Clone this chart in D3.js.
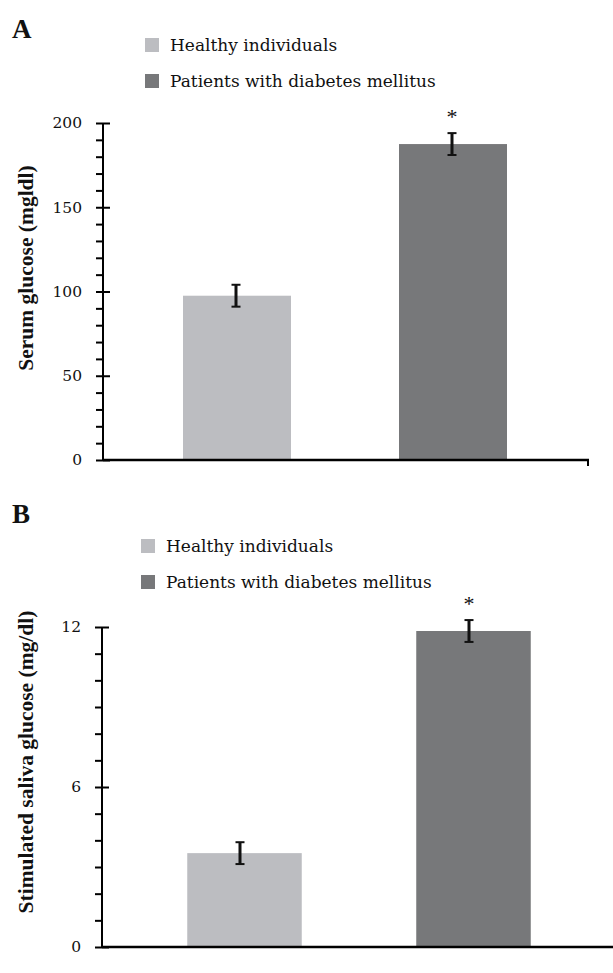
<!DOCTYPE html>
<html>
<head>
<meta charset="utf-8">
<script src="https://cdn.jsdelivr.net/npm/d3@7"></script>
<style>
  body { margin: 0; background: #fff; }
  svg text { font-family: "Liberation Serif", "DejaVu Serif", serif; fill: #111; }
  .axis path, .axis line { stroke: #000; stroke-width: 2; }
</style>
</head>
<body>
<script>
// data
var groups = ["Healthy individuals", "Patients with diabetes mellitus"];
var colors = ["#bcbdc1", "#77787a"];

var serumMeans = [97.5, 187.5];
var serumErr = [6.5, 6.5];
var serumTicks = [0, 50, 100, 150, 200];
var serumMinor = d3.range(0, 201, 10);

var salivaMeans = [3.52, 11.85];
var salivaErr = [0.41, 0.41];
var salivaTicks = [0, 6, 12];
var salivaMinor = d3.range(0, 13, 1);

var signif = ["", "*"];

var w = 613, h = 973;
var svg = d3.select("body").append("svg").attr("width", w).attr("height", h);

function panel(opt) {
  var g = svg.append("g");

  var xScale = d3.scaleBand().domain(groups)
    .range(opt.xRange).paddingInner(0.5).paddingOuter(0.25);
  var yScale = d3.scaleLinear().domain([0, opt.yMax]).range([opt.y0, opt.yTop]);

  // panel letter
  g.append("text").attr("x", 12).attr("y", opt.letterY)
    .attr("font-size", 27).attr("font-weight", "bold").text(opt.letter);

  // legend
  groups.forEach(function(name, i) {
    g.append("rect").attr("x", opt.legX).attr("y", opt.legY + i * 36)
      .attr("width", 14).attr("height", 14).attr("fill", colors[i]);
    g.append("text").attr("x", opt.legX + 25).attr("y", opt.legY + i * 36 + 13)
      .attr("font-size", 17).style("font-family", "'DejaVu Serif', serif").text(name);
  });

  // bars
  g.selectAll(".bar").data(opt.means).enter().append("rect")
    .attr("x", function(d, i) { return xScale(groups[i]); })
    .attr("y", function(d) { return yScale(d); })
    .attr("width", xScale.bandwidth())
    .attr("height", function(d) { return opt.y0 - yScale(d); })
    .attr("fill", function(d, i) { return colors[i]; });

  // error bars
  opt.means.forEach(function(m, i) {
    var cx = xScale(groups[i]) + xScale.bandwidth() / 2 + opt.errDx;
    var lo = yScale(m - opt.err[i]), hi = yScale(m + opt.err[i]);
    g.append("line").attr("x1", cx).attr("x2", cx).attr("y1", lo).attr("y2", hi)
      .attr("stroke", "#111").attr("stroke-width", 3);
    [lo, hi].forEach(function(yy) {
      g.append("line").attr("x1", cx - 4.5).attr("x2", cx + 4.5).attr("y1", yy).attr("y2", yy)
        .attr("stroke", "#111").attr("stroke-width", 2);
    });
    if (signif[i]) {
      g.append("text").attr("x", cx).attr("y", hi - 9)
        .attr("text-anchor", "middle").attr("font-size", 22).text(signif[i]);
    }
  });

  // minor ticks (left only)
  var yAxisMinor = d3.axisLeft(yScale).tickValues(opt.minor).tickSize(7).tickFormat("");
  g.append("g").attr("class", "axis")
    .attr("transform", "translate(" + opt.x0 + ",0)")
    .call(yAxisMinor)
    .call(function(s) { s.select(".domain").remove(); });

  // major ticks crossing the axis
  var yAxis = d3.axisLeft(yScale).tickValues(opt.ticks).tickSizeInner(7).tickSizeOuter(0).tickPadding(14);
  var ya = g.append("g").attr("class", "axis")
    .attr("transform", "translate(" + opt.x0 + ",0)")
    .call(yAxis);
  ya.selectAll(".tick line").attr("x2", 7);
  ya.selectAll(".tick text").attr("font-size", 15.5)
    .style("font-family", "'DejaVu Serif', serif");
  ya.select(".domain").attr("d", "M0," + (opt.y0 + 1) + "V" + yScale(opt.yMax));

  // x axis baseline
  g.append("line").attr("x1", opt.x0).attr("x2", opt.xEnd)
    .attr("y1", opt.y0).attr("y2", opt.y0)
    .attr("stroke", "#000").attr("stroke-width", 2.5);
  if (opt.endTick) {
    g.append("line").attr("x1", opt.xEnd - 1).attr("x2", opt.xEnd - 1)
      .attr("y1", opt.y0).attr("y2", opt.y0 + 6)
      .attr("stroke", "#000").attr("stroke-width", 2);
  }

  // y title
  g.append("text")
    .attr("transform", "translate(" + opt.titleX + "," + opt.titleY + ") rotate(-90)")
    .attr("text-anchor", "middle").attr("font-size", 21.5).attr("font-weight", "bold")
    .text(opt.title);
}

panel({
  letter: "A", letterY: 38,
  legX: 145, legY: 38,
  xRange: [129, 561], x0: 103, xEnd: 589, endTick: true,
  y0: 460, yTop: 123, yMax: 200,
  means: serumMeans, err: serumErr, ticks: serumTicks, minor: serumMinor,
  errDx: -1,
  title: "Serum glucose (mgldl)", titleX: 33, titleY: 268
});

panel({
  letter: "B", letterY: 523,
  legX: 141, legY: 539,
  xRange: [130, 588], x0: 102, xEnd: 613, endTick: false,
  y0: 947, yTop: 627, yMax: 12,
  means: salivaMeans, err: salivaErr, ticks: salivaTicks, minor: salivaMinor,
  errDx: -4.5,
  title: "Stimulated saliva glucose (mg/dl)", titleX: 33, titleY: 762
});
</script>
</body>
</html>
